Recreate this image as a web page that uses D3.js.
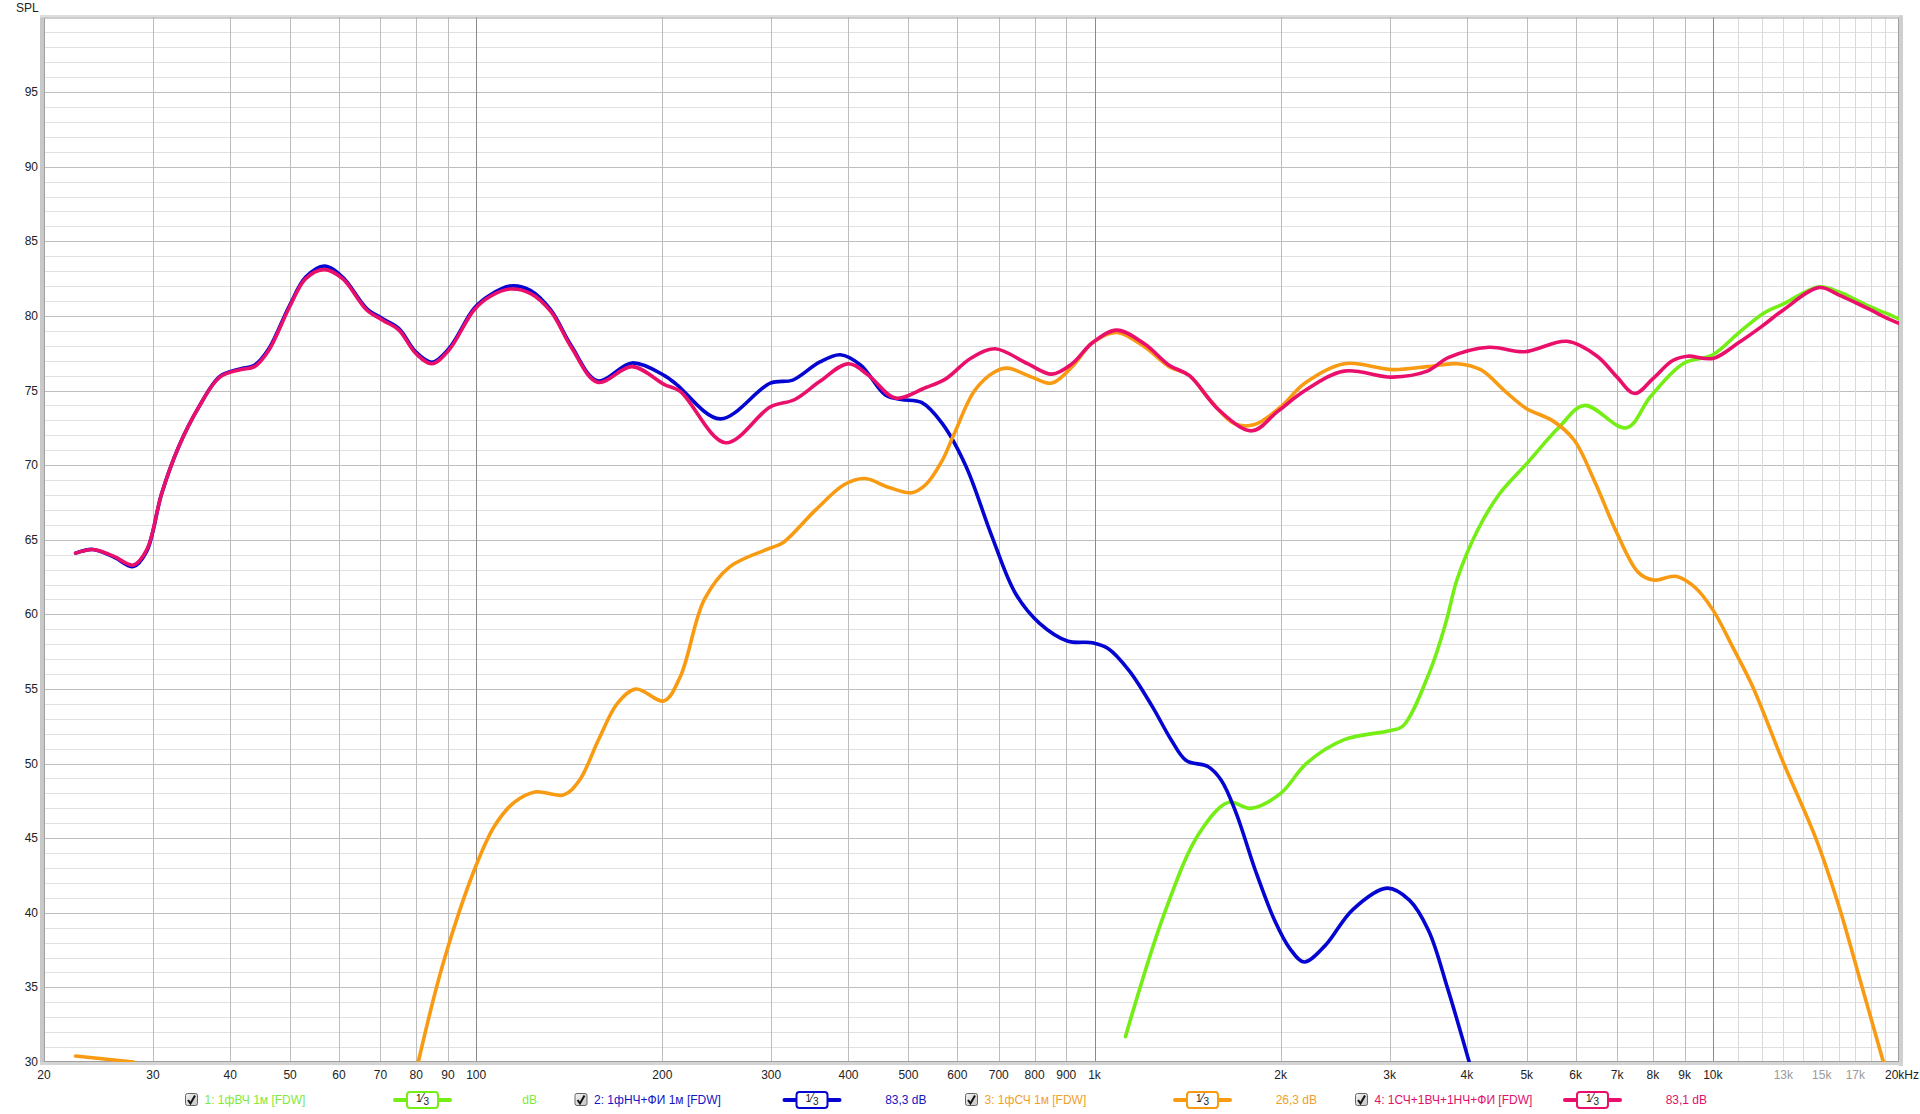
<!DOCTYPE html>
<html><head><meta charset="utf-8">
<script src="https://cdn.jsdelivr.net/npm/d3@7"></script>
<style>
html,body{margin:0;padding:0;background:#fff;}
svg{display:block;font-family:"Liberation Sans",Arial,sans-serif;}
</style></head>
<body><svg id="c" width="1920" height="1114"></svg>
<script>
// ---- data ----
const xTickValues = [20,30,40,50,60,70,80,90,100,200,300,400,500,600,700,800,900,1000,2000,3000,4000,5000,6000,7000,8000,9000,10000,13000,15000,17000,20000];
const xTickLabels = ["20","30","40","50","60","70","80","90","100","200","300","400","500","600","700","800","900","1k","2k","3k","4k","5k","6k","7k","8k","9k","10k","13k","15k","17k","20kHz"];
const xGrayLabels = ["13k","15k","17k"];
const yTickValues = [30,35,40,45,50,55,60,65,70,75,80,85,90,95];

// 1: HF driver
const hfFreq = [1122,1298,1475,1646,1789,2000,2200,2534,3000,3151,3494,3708,3855,4165,4522,5000,5643,6195,7250,7930,8950,10000,11000,12100,13000,14860,16000,17000,18000,19000,20000];
const hfSpl  = [31.7,40.0,45.3,47.4,47.0,48.0,50.0,51.6,52.2,52.5,56.3,59.6,62.3,65.65,68.1,70.1,72.55,74.0,72.5,74.6,76.8,77.4,78.85,80.2,80.8,81.95,81.6,81.1,80.6,80.2,79.8];

// 2: LF driver + port
const lfFreq = [22.5,24,25.9,27.9,29.3,31,33,35.6,38.5,41.5,43.8,46.2,49.9,53,56.8,60.8,66.5,70.7,75,79.8,84.8,90.3,99.2,105.3,113.4,122.5,132,142.5,157.2,178.7,201.6,211,248,299,325,359,388,418.7,459,487,525,567,620,680,745,815,906,992,1053,1139,1241,1330,1407,1525,1602,1694,1818,1955,2070,2183,2360,2614,2972,3230,3470,3720,4036];
const lfSpl  = [64.1,64.35,63.85,63.2,64.2,68.1,71.2,73.9,75.95,76.45,76.7,77.8,80.7,82.6,83.35,82.6,80.5,79.8,79.15,77.6,76.9,77.8,80.5,81.4,82.0,81.7,80.4,78.0,75.65,76.85,76.0,75.4,73.1,75.5,75.7,76.9,77.4,76.7,74.7,74.4,74.2,72.8,69.9,65.4,61.4,59.4,58.2,58.1,57.7,56.2,53.8,51.6,50.2,49.8,48.9,46.7,42.9,39.5,37.6,36.7,37.8,40.2,41.65,40.85,38.8,35.0,30.0];

// 3: MF driver (null = gap below the axis)
const mfFreq = [22.5,27.9,50,80.6,88.4,99.8,107,115.2,124.5,138.5,147,157.7,169.3,181.3,201,213.7,233.9,257.3,299.3,313.3,354,394,425,465.5,506,533.6,567,593,640,690,723,792,853,920,992,1086,1207,1320,1424,1535,1680,1809,2000,2190,2534,3030,3452,3855,4213,4600,4990,5496,5960,6455,6995,7580,8020,8710,9360,10000,10800,11600,12960,14700,16000,17300,18870];
const mfSpl  = [30.4,30.0,null,30.0,36.6,43.1,45.8,47.4,48.1,47.9,48.9,51.6,54.05,55.0,54.2,55.8,61.0,63.2,64.45,64.8,67.0,68.7,69.1,68.5,68.15,68.7,70.3,72.1,75.0,76.26,76.5,75.9,75.5,76.6,78.2,78.9,77.9,76.6,76.0,74.4,72.8,72.7,73.9,75.5,76.8,76.4,76.6,76.8,76.4,75.0,73.8,73.0,71.7,68.8,65.45,62.8,62.3,62.55,61.8,60.3,57.7,55.15,50.2,44.9,40.4,35.5,30.0];

// 4: sum
const sumFreq = [22.5,24,25.9,27.9,29.3,31,33,35.6,38.5,41.5,43.8,46.2,49.9,53,56.8,60.8,66.5,70.7,75,79.8,84.8,90.3,99.2,105.3,113.4,122.5,132,142.5,157.2,178.7,201.6,213.7,253,299,327.6,359.3,400,431.6,476,533.6,575.5,630,690,779,853,920,992,1086,1207,1320,1424,1588,1798,1978,2190,2532,3028,3452,3732,4346,4954,5807,6500,7000,7472,8000,8600,9100,10000,11000,12000,13000,14860,16000,17000,18000,19000,20000];
const sumSpl  = [64.1,64.35,63.9,63.3,64.3,68.1,71.2,73.9,75.9,76.4,76.6,77.7,80.6,82.5,83.1,82.5,80.4,79.7,79.05,77.5,76.8,77.7,80.4,81.3,81.8,81.5,80.3,77.9,75.55,76.6,75.4,74.95,71.5,73.9,74.4,75.6,76.8,76.0,74.5,75.2,75.8,77.15,77.8,76.8,76.1,76.8,78.2,79.05,78.1,76.7,76.0,73.7,72.3,73.6,75.0,76.3,75.9,76.3,77.2,77.9,77.6,78.3,77.3,75.9,74.8,75.8,77.0,77.3,77.15,78.2,79.3,80.4,81.9,81.4,80.9,80.4,79.9,79.5];

const legendNames  = ["1: 1фВЧ 1м [FDW]","2: 1фНЧ+ФИ 1м [FDW]","3: 1фСЧ 1м [FDW]","4: 1СЧ+1ВЧ+1НЧ+ФИ [FDW]"];
const legendValues = ["dB","83,3 dB","26,3 dB","83,1 dB"];

// ---- drawing ----
const colors = ["#74ee15","#0505d2","#f99b12","#ea0f6b"];
const textColors = ["#80e83a","#1414c0","#f0a028","#e0106a"];
const series = [[hfFreq,hfSpl],[lfFreq,lfSpl],[mfFreq,mfSpl],[sumFreq,sumSpl]];

const L=44,R=1899,T=17.5,B=1062;
const svg = d3.select("#c");
const x = d3.scaleLog().domain([20,20000]).range([L,R]);
const y = d3.scaleLinear().domain([30,100]).range([B,T]);

// frame shadows
svg.append("rect").attr("x",L-4).attr("y",T-2).attr("width",4).attr("height",B-T+4).attr("fill","#c8c8c8");
svg.append("rect").attr("x",L-4).attr("y",T-2.5).attr("width",R-L+8).attr("height",2.5).attr("fill","#dedede");
svg.append("rect").attr("x",R).attr("y",T-2).attr("width",4).attr("height",B-T+6).attr("fill","#cfcfcf");
svg.append("rect").attr("x",L-4).attr("y",B).attr("width",R-L+8).attr("height",3).attr("fill","#d4d4d4");
svg.append("rect").attr("x",L).attr("y",T).attr("width",R-L).attr("height",B-T).attr("fill","#fff");

const g = svg.append("g");
// horizontal grid
d3.range(31,100).forEach(v=>{
  g.append("line").attr("x1",L).attr("x2",R).attr("y1",Math.round(y(v))+0.5).attr("y2",Math.round(y(v))+0.5)
   .attr("stroke", v%5===0 ? "#bdbdbd" : "#e0e0e0").attr("stroke-width",1);
});
// vertical grid
const vLines = [];
[20,200,2000].forEach(d=>{ for(let k=1.5;k<=4.5;k+=0.5){ const f=d*k; if(f%(d/2)===0 && f!==d*5) vLines.push(f);} });
const vMain = [30,40,50,60,70,80,90,200,300,400,500,600,700,800,900,2000,3000,4000,5000,6000,7000,8000,9000];
const vMinor = d3.range(11000,20000,1000);
vMinor.forEach(f=>g.append("line").attr("x1",Math.round(x(f))+0.5).attr("x2",Math.round(x(f))+0.5).attr("y1",T).attr("y2",B).attr("stroke","#dadada"));
vMain.forEach(f=>g.append("line").attr("x1",Math.round(x(f))+0.5).attr("x2",Math.round(x(f))+0.5).attr("y1",T).attr("y2",B).attr("stroke","#bdbdbd"));
[100,1000,10000].forEach(f=>g.append("line").attr("x1",Math.round(x(f))+0.5).attr("x2",Math.round(x(f))+0.5).attr("y1",T).attr("y2",B).attr("stroke","#8a8a8a"));

// frame line
svg.append("rect").attr("x",L+0.5).attr("y",T+0.5).attr("width",R-L-1).attr("height",B-T-1).attr("fill","none").attr("stroke","#a0a0a0");

// y axis labels
svg.append("g").selectAll("text").data(yTickValues).join("text")
  .attr("x",L-6).attr("y",d=>y(d)+4).attr("text-anchor","end").attr("font-size",12).attr("fill","#222").text(d=>d);
svg.append("text").attr("x",16).attr("y",12).attr("font-size",12).attr("fill","#222").text("SPL");

// x axis labels
svg.append("g").selectAll("text").data(xTickValues).join("text")
  .attr("x",(d,i)=> i===xTickValues.length-1 ? x(d)-14 : x(d)).attr("y",B+17).attr("text-anchor",(d,i)=> i===xTickValues.length-1 ? "start":"middle")
  .attr("font-size",12)
  .attr("fill",(d,i)=> xGrayLabels.includes(xTickLabels[i]) ? "#9a9a9a" : "#222")
  .text((d,i)=>xTickLabels[i]);

// curves
svg.append("clipPath").attr("id","clip").append("rect").attr("x",L).attr("y",T).attr("width",R-L).attr("height",B-T);
const line = d3.line().defined(d=>d[1]!==null).x(d=>x(d[0])).y(d=>y(d[1])).curve(d3.curveCatmullRom.alpha(0.5));
const cg = svg.append("g").attr("clip-path","url(#clip)");
series.forEach((s,i)=>{
  const pts = s[0].map((f,j)=>[f,s[1][j]]);
  cg.append("path").attr("d",line(pts)).attr("fill","none").attr("stroke",colors[i])
    .attr("stroke-width",3.6).attr("stroke-linejoin","round").attr("stroke-linecap","round");
});

// legend
const bases = [185,574.5,965,1355];
const LY = 1100;
bases.forEach((b,i)=>{
  const lg = svg.append("g");
  // checkbox
  const grad = "cbg"+i;
  const gr = svg.append("defs").append("linearGradient").attr("id",grad).attr("x1",0).attr("y1",0).attr("x2",1).attr("y2",1);
  gr.append("stop").attr("offset","0%").attr("stop-color","#f4f4f4");
  gr.append("stop").attr("offset","100%").attr("stop-color","#c4c4c4");
  lg.append("rect").attr("x",b+0.5).attr("y",LY-6.5).attr("width",12).attr("height",12).attr("rx",2).attr("fill","url(#"+grad+")").attr("stroke","#666");
  lg.append("path").attr("d",`M${b+3},${LY} L${b+5.5},${LY+3.5} L${b+10},${LY-4.5}`).attr("fill","none").attr("stroke","#111").attr("stroke-width",2);
  lg.append("text").attr("x",b+19.5).attr("y",LY+4).attr("font-size",12).attr("fill",textColors[i]).text(legendNames[i]);
  // 1/3 button
  lg.append("line").attr("x1",b+210).attr("x2",b+265).attr("y1",LY).attr("y2",LY).attr("stroke",colors[i]).attr("stroke-width",4).attr("stroke-linecap","round");
  lg.append("rect").attr("x",b+222).attr("y",LY-8).attr("width",31).attr("height",16).attr("rx",3).attr("fill","#fff").attr("stroke",colors[i]).attr("stroke-width",2);
  const t = lg.append("text").attr("x",b+237.5).attr("y",LY+4).attr("text-anchor","middle").attr("font-size",12).attr("fill","#222");
  t.append("tspan").attr("font-size",10).attr("dy",-2).text("1");
  t.append("tspan").attr("dy",0).text("⁄");
  t.append("tspan").attr("font-size",10).attr("dy",3).text("3");
  lg.append("text").attr("x",b+352).attr("y",LY+4).attr("text-anchor","end").attr("font-size",12).attr("fill",textColors[i]).text(legendValues[i]);
});
</script></body></html>
